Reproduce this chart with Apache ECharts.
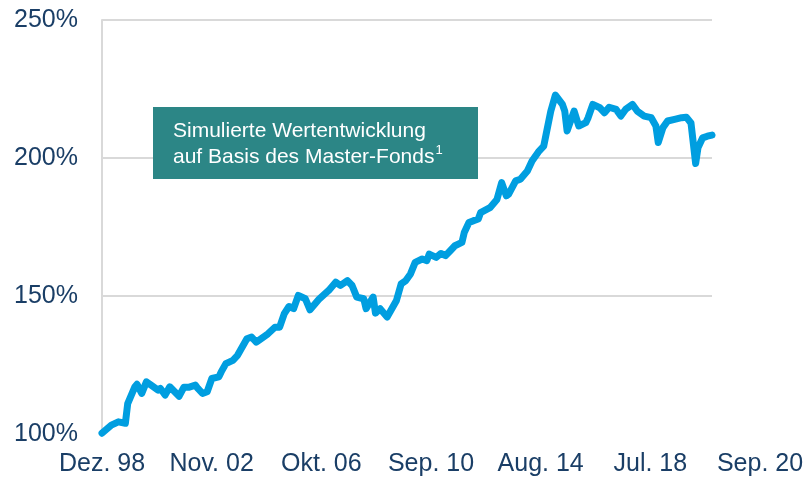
<!DOCTYPE html>
<html>
<head>
<meta charset="utf-8">
<script src="https://cdn.jsdelivr.net/npm/echarts@6/dist/echarts.min.js"></script>
<style>
html,body{margin:0;padding:0;background:#fff;}
#c{width:808px;height:482px;}
</style>
</head>
<body>
<div id="c"></div>
<script>
// Months elapsed since Dez. 98 (0) and indexed value in %
var months = [0,4,7,10,11,14,15,17,19,21,24,25,27,29,33,35,37,40,41,43,45,47,50,51,53,56,58,62,64,66,68,71,74,76,78,80,82,84,87,89,93,97,100,102,105,107,109,112,113,116,117,119,122,124,126,128,130,132,134,137,139,140,143,145,147,149,151,154,155,157,159,161,162,166,169,171,173,174,177,179,182,184,187,189,190,192,194,197,198,199,202,204,207,208,210,213,215,217,220,222,224,227,229,232,235,237,238,240,242,245,248,250,252,254,255,257,259,261];
var values = [100.3,103.2,104.4,103.9,111,117,118,114.7,118.9,117.7,115.9,116.5,114.1,117.1,113.7,116.9,116.9,117.7,116.5,114.7,115.3,120.1,120.7,122.5,125.5,126.7,128.5,134.5,135.1,133.3,134.5,136.3,138.7,138.7,143.6,146.2,145.4,150.2,149,145,149,152,155,153.8,155.6,153.8,149.6,149,145.4,149.6,143.8,145.4,142.4,145.4,148.4,154.4,155.6,158,162.2,163.4,162.8,165.2,164,165.4,164.6,166.4,168.2,169.4,173,176.6,177.3,177.9,180.2,182,185,191.1,186.3,186.9,191.7,192.3,195.3,198.9,202.5,204.3,208.5,216.9,222.8,219.4,217,209.8,217,211.6,212.8,214.6,219.4,218.2,216.4,218.4,217.6,215.2,217.6,219.4,217,215.2,214.6,211.6,205.6,211,213.4,214,214.6,214.8,212.7,198,203.7,207.3,207.9,208.3];
var xTickLabels = ["Dez. 98","Nov. 02","Okt. 06","Sep. 10","Aug. 14","Jul. 18","Sep. 20"];
var yTicks = [100,150,200,250];
var boxLines = ["Simulierte Wertentwicklung","auf Basis des Master-Fonds"];

var navy = '#1A3E66';
var chart = echarts.init(document.getElementById('c'), null, {renderer:'canvas'});
var seriesData = months.map(function(m,i){return [m, values[i]];});

chart.setOption({
  animation:false,
  grid:[
    {left:102, right:96, top:20, bottom:48},
    {left:102, right:48, top:20, bottom:48}
  ],
  xAxis:[
    {type:'value', gridIndex:0, min:0, max:261,
     axisLine:{show:false}, axisTick:{show:false}, axisLabel:{show:false}, splitLine:{show:false}},
    {type:'value', gridIndex:1, min:0, max:282, interval:47,
     axisLine:{show:false}, axisTick:{show:false}, splitLine:{show:false},
     axisLabel:{show:true, margin:18, color:navy, fontSize:25, fontFamily:'Liberation Sans, Arial, sans-serif',
       formatter:function(v){var i=Math.round(v/47); return xTickLabels[i]||'';}}}
  ],
  yAxis:[
    {type:'value', gridIndex:0, min:100, max:250, interval:50,
     axisLine:{show:true, lineStyle:{color:'#D9D9D9', width:2}}, axisTick:{show:false},
     splitLine:{show:true, showMinLine:false, lineStyle:{color:'#D9D9D9', width:2}},
     axisLabel:{margin:24, color:navy, fontSize:25, fontFamily:'Liberation Sans, Arial, sans-serif',
       formatter:function(v){return yTicks.indexOf(v)>=0 ? v+'%' : '';}}},
    {type:'value', gridIndex:1, min:100, max:250, show:false}
  ],
  series:[{
    type:'line', xAxisIndex:0, yAxisIndex:0, data:seriesData,
    showSymbol:false, smooth:false,
    lineStyle:{color:'#009EE0', width:7, join:'round', cap:'round'}
  }],
  graphic:[{
    type:'group', left:153, top:107, z:100,
    children:[
      {type:'rect', z:100, shape:{x:0,y:0,width:325,height:72}, style:{fill:'#2C8686'}},
      {type:'text', z:101, left:20, top:11, style:{
        text: boxLines[0] + '\n' + boxLines[1] + '{sup|1}',
        fill:'#FFFFFF', fontSize:21, lineHeight:26, fontFamily:'Liberation Sans, Arial, sans-serif',
        rich:{sup:{fontSize:13, fill:'#FFFFFF', verticalAlign:'top', padding:[0,0,8,1], fontFamily:'Liberation Sans, Arial, sans-serif'}}
      }}
    ]
  }]
});
</script>
</body>
</html>
